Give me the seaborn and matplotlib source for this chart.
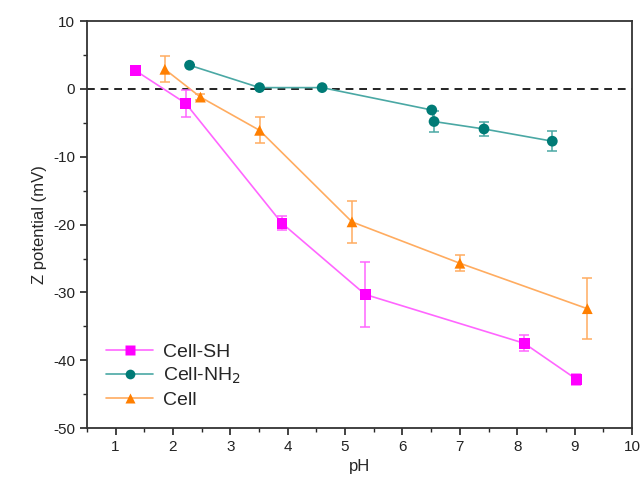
import numpy as np
import pandas as pd
import matplotlib
matplotlib.use("Agg")
import matplotlib.pyplot as plt
import seaborn as sns
from matplotlib.lines import Line2D
from matplotlib.ticker import MultipleLocator

# data
sh_ph = [1.35, 2.22, 3.9, 5.35, 8.12, 9.03]
sh_z = [2.7, -2.1, -19.8, -30.3, -37.5, -42.8]
sh_err = [0.0, 2.0, 1.0, 4.8, 1.2, 0.8]

nh2_ph = [2.29, 3.51, 4.6, 6.51, 6.55, 7.42, 8.61]
nh2_z = [3.5, 0.2, 0.2, -3.1, -4.8, -5.9, -7.7]
nh2_err = [0.0, 0.0, 0.0, 0.0, 1.5, 1.0, 1.5]

cell_ph = [1.86, 2.48, 3.51, 5.12, 7.0, 9.22]
cell_z = [2.9, -1.2, -6.1, -19.6, -25.7, -32.4]
cell_err = [1.9, 0.5, 1.9, 3.1, 1.2, 4.5]

series = [
    ("Cell-SH", sh_ph, sh_z, sh_err, "s", "#ff00ff", "#ff66ff"),
    ("Cell-NH$_2$", nh2_ph, nh2_z, nh2_err, "o", "#007b76", "#4aa8a4"),
    ("Cell", cell_ph, cell_z, cell_err, "^", "#ff7f00", "#ffac60"),
]

sns.set_theme(style="ticks")
plt.rcParams["font.family"] = ["Liberation Sans", "DejaVu Sans"]
plt.rcParams["axes.unicode_minus"] = False

fig = plt.figure(figsize=(6.43, 4.92), dpi=100)
ax = fig.add_axes([0.135, 0.13, 0.848, 0.827])

ax.axhline(0, color="#222222", ls=(0, (4, 3)), lw=1.4, zorder=1)

handles = []
for name, x, y, err, mk, mc, lc in series:
    df = pd.DataFrame({"pH": x, "Z": y})
    sns.lineplot(data=df, x="pH", y="Z", color=lc, lw=1.2, sort=False, ax=ax, zorder=2)
    ax.errorbar(x, y, yerr=err, fmt="none", ecolor=lc, elinewidth=1.1,
                capsize=3.5, capthick=1.1, zorder=3)
    sns.scatterplot(data=df, x="pH", y="Z", marker=mk, color=mc, s=60,
                    edgecolor="none", ax=ax, zorder=4)
    handles.append(Line2D([0], [0], color=lc, lw=1.2, marker=mk, markersize=7,
                          markerfacecolor=mc, markeredgecolor="none", label=name))

ax.set_xlim(0.5, 10)
ax.set_ylim(-50, 10)
ax.xaxis.set_major_locator(MultipleLocator(1))
ax.xaxis.set_minor_locator(MultipleLocator(0.5))
ax.yaxis.set_major_locator(MultipleLocator(10))
ax.yaxis.set_minor_locator(MultipleLocator(5))
ax.tick_params(which="major", direction="out", length=5, width=1.2, labelsize=11, colors="#222222")
ax.tick_params(which="minor", direction="out", length=3, width=1.0)
for sp in ax.spines.values():
    sp.set_linewidth(1.3)
    sp.set_color("#333333")

ax.set_xlabel("pH", fontsize=12)
ax.set_ylabel("Z potential (mV)", fontsize=12)

ax.legend(handles=handles, loc="lower left", frameon=False, fontsize=14,
          handlelength=2.4, borderaxespad=0.6, labelspacing=0.25, handletextpad=0.5)

fig.savefig("out.png", dpi=100)
